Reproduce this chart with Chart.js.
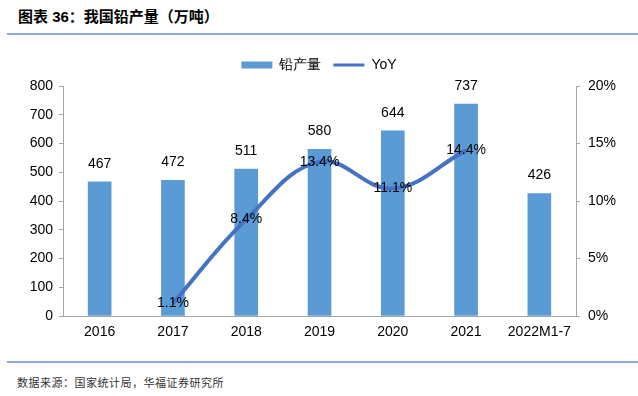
<!DOCTYPE html>
<html lang="zh">
<head>
  <meta charset="UTF-8">
  <title>我国铅产量</title>
  <script src="https://cdn.jsdelivr.net/npm/chart.js"></script>
  <style>
    body {
      margin: 0;
      width: 638px;
      height: 396px;
      background: #fff;
      position: relative;
      overflow: hidden;
      font-family: "Liberation Sans", Arial, sans-serif;
    }
    #title {
      position: absolute;
      left: 18px;
      top: 5px;
      font-family: "Liberation Sans", "Noto Sans CJK SC", sans-serif;
      font-weight: bold;
      font-size: 15px;
      color: #000;
    }
    .rule {
      position: absolute;
      left: 7px;
      right: 0;
      height: 2px;
      background: #8eaadb;
    }
    #source {
      position: absolute;
      left: 17px;
      top: 374px;
      font-family: "Noto Sans CJK SC", sans-serif;
      font-size: 11px;
      color: #333;
      letter-spacing: 0.5px;
    }
    #chartBox {
      position: absolute;
      left: 0;
      top: 40px;
      width: 638px;
      height: 316px;
    }
  </style>
</head>
<body>
  <div id="title">图表 36：我国铅产量（万吨）</div>
  <div class="rule" style="top:33px"></div>
  <div id="chartBox"><canvas id="leadChart"></canvas></div>
  <div class="rule" style="top:361px"></div>
  <div id="source">数据来源：国家统计局，华福证券研究所</div>

  <script>
    const years = ['2016', '2017', '2018', '2019', '2020', '2021', '2022M1-7'];
    const output = [467, 472, 511, 580, 644, 737, 426];
    const yoy = [null, 1.1, 8.4, 13.4, 11.1, 14.4, null];
    const leftTicks = [0, 100, 200, 300, 400, 500, 600, 700, 800];
    const rightTicks = [0, 5, 10, 15, 20];

    const barColor = '#5b9bd5';
    const lineColor = '#4472c4';
    const axisColor = '#a6a6a6';
    const font = { family: '"Liberation Sans", Arial, sans-serif', size: 14 };

    // value labels: above the bars, centred on the line points
    const valueLabels = {
      id: 'valueLabels',
      afterInit(chart) {
        // a little more room under the legend
        const fit = chart.legend.fit;
        chart.legend.fit = function () { fit.call(this); this.height += 4; };
      },
      afterDatasetsDraw(chart) {
        const c = chart.ctx;
        c.save();
        c.font = '14px "Liberation Sans", Arial, sans-serif';
        c.fillStyle = '#000';
        c.textAlign = 'center';
        c.textBaseline = 'middle';
        chart.getDatasetMeta(0).data.forEach((bar, i) => {
          c.fillText(output[i], bar.x, bar.y - 18);
        });
        chart.getDatasetMeta(1).data.forEach((pt, i) => {
          if (yoy[i] === null) return;
          c.fillText(yoy[i].toFixed(1) + '%', pt.x, pt.y);
        });
        c.restore();
      }
    };

    new Chart(document.getElementById('leadChart'), {
      data: {
        labels: years,
        datasets: [{
          type: 'bar',
          label: '铅产量',
          data: output,
          backgroundColor: barColor,
          barThickness: 23,
          yAxisID: 'y',
          order: 1
        }, {
          type: 'line',
          label: 'YoY',
          data: yoy,
          borderColor: lineColor,
          backgroundColor: lineColor,
          borderWidth: 4,
          tension: 0.4,
          pointRadius: 0,
          yAxisID: 'y1',
          order: 0
        }]
      },
      options: {
        responsive: true,
        maintainAspectRatio: false,
        animation: false,
        layout: { padding: { top: 6, left: 0, right: 0, bottom: 0 } },
        plugins: {
          tooltip: { enabled: false },
          legend: {
            position: 'top',
            labels: {
              font: font,
              color: '#000',
              usePointStyle: true,
              pointStyleWidth: 31,
              boxHeight: 7,
              padding: 12,
              generateLabels(chart) {
                const items = Chart.defaults.plugins.legend.labels.generateLabels(chart);
                items.sort((a, b) => a.datasetIndex - b.datasetIndex);
                items.forEach(it => {
                  if (it.datasetIndex === 0) {
                    it.pointStyle = 'rect';
                    it.lineWidth = 0;
                    it.fillStyle = barColor;
                  } else {
                    it.pointStyle = 'line';
                    it.lineWidth = 3;
                    it.strokeStyle = lineColor;
                  }
                });
                return items;
              }
            }
          }
        },
        scales: {
          x: {
            grid: { display: false, drawTicks: false },
            border: { color: axisColor },
            ticks: { font: font, color: '#000', padding: 8, maxRotation: 0, autoSkip: false },
            afterFit(scale) { scale.height = 40; }
          },
          y: {
            position: 'left',
            min: 0,
            max: 800,
            afterBuildTicks(scale) { scale.ticks = leftTicks.map(v => ({ value: v })); },
            grid: { drawOnChartArea: false, tickLength: 4, tickColor: axisColor },
            border: { color: axisColor },
            ticks: { font: font, color: '#000', padding: 6 },
            afterFit(scale) { scale.width = 63; }
          },
          y1: {
            position: 'right',
            min: 0,
            max: 20,
            afterBuildTicks(scale) { scale.ticks = rightTicks.map(v => ({ value: v })); },
            grid: { drawOnChartArea: false, tickLength: 4, tickColor: axisColor },
            border: { color: axisColor },
            ticks: { font: font, color: '#000', padding: 8, callback: v => v + '%' },
            afterFit(scale) { scale.width = 62; }
          }
        }
      },
      plugins: [valueLabels]
    });
  </script>
</body>
</html>
